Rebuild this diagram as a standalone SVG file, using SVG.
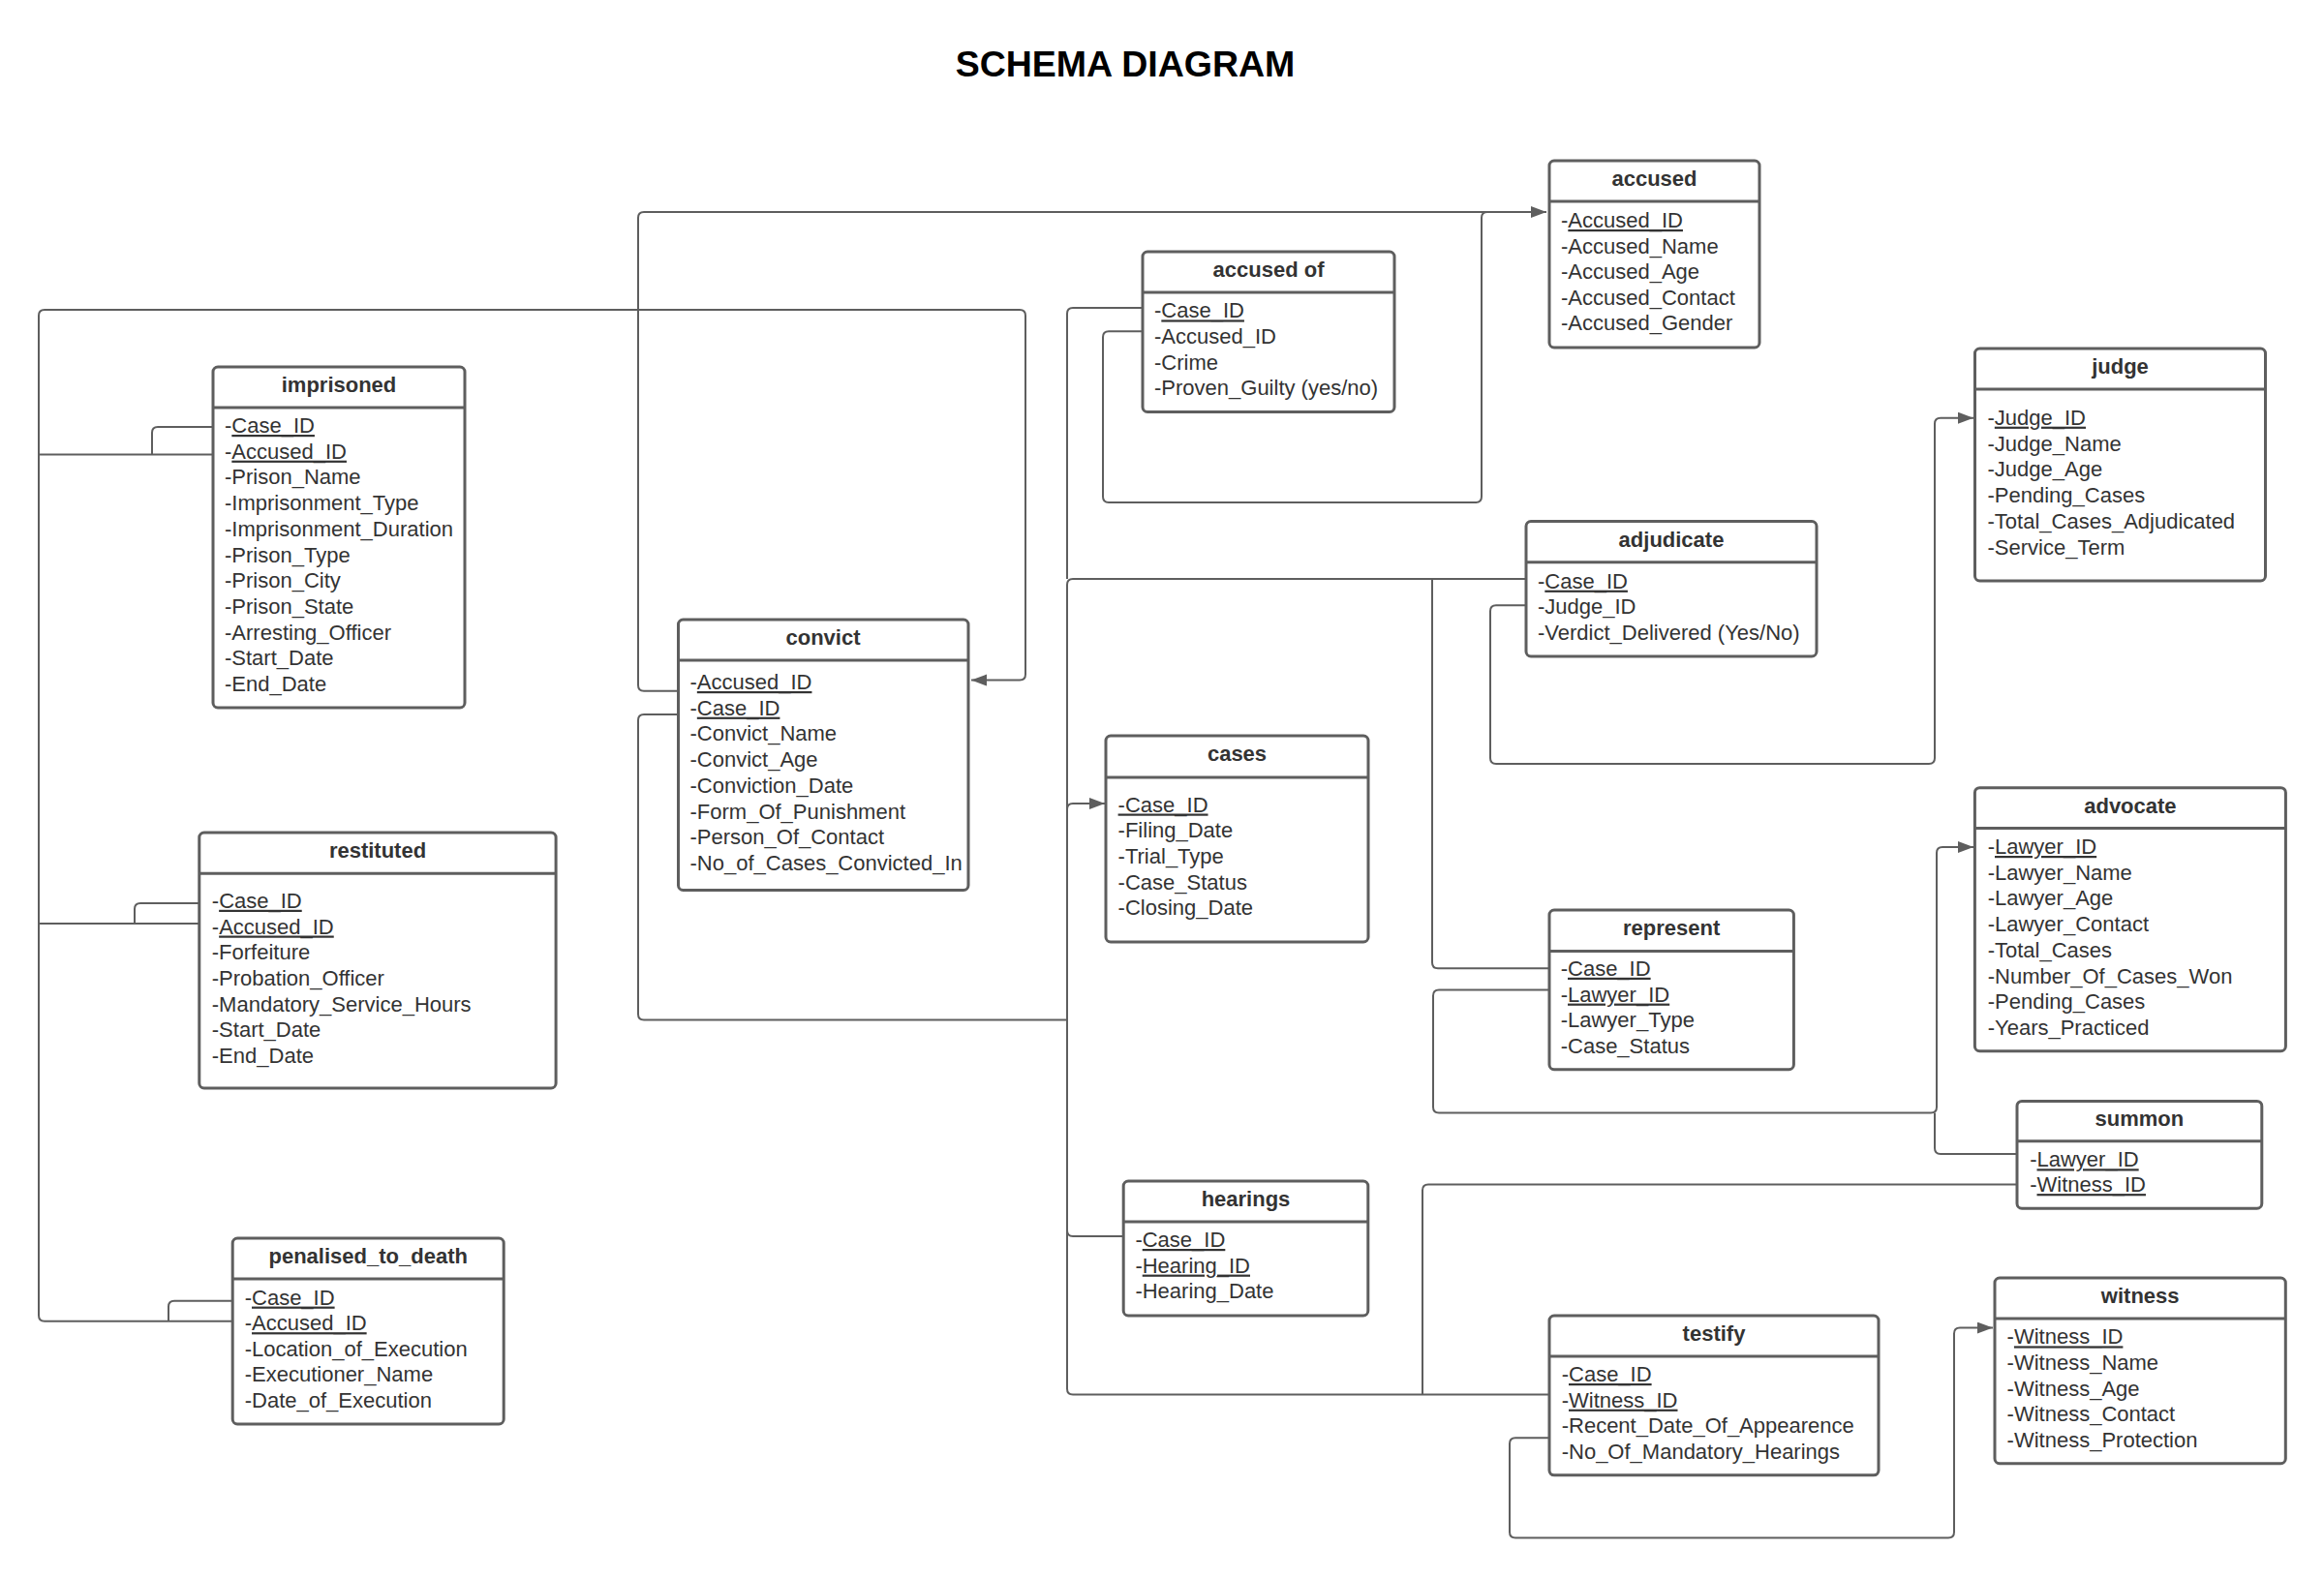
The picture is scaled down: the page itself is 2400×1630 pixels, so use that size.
<svg xmlns="http://www.w3.org/2000/svg" width="2400" height="1630" viewBox="0 0 2400 1630">
<style>
.bg{fill:#ffffff}
.box{fill:#ffffff;stroke:#5e5e5e;stroke-width:3}
.hl{stroke:#5e5e5e;stroke-width:3}
.t{font-family:"Liberation Sans",Arial,sans-serif;font-size:22px;font-weight:bold;fill:#333333;text-anchor:middle}
.a{font-family:"Liberation Sans",Arial,sans-serif;font-size:22px;fill:#333333}
.u{text-decoration:underline}
.c{fill:none;stroke:#5e5e5e;stroke-width:2}
.title{font-family:"Liberation Sans",Arial,sans-serif;font-size:37.5px;font-weight:bold;fill:#000000;text-anchor:middle}
</style>
<defs>
<marker id="arr" markerUnits="userSpaceOnUse" markerWidth="18" markerHeight="14" refX="16" refY="6" orient="auto">
<path d="M0,0 L16,6 L0,12 z" fill="#5e5e5e"/>
</marker>
</defs>
<rect class="bg" x="0" y="0" width="2400" height="1630"/>
<text class="title" x="1162" y="79">SCHEMA DIAGRAM</text>

<g id="connectors">
<path class="c" d="M240.2 1364.7 H46 Q40 1364.7 40 1358.7 V326 Q40 320 46 320 H1053 Q1059 320 1059 326 V696.6 Q1059 702.6 1053 702.6 H1003" marker-end="url(#arr)"/>
<path class="c" d="M219.6 469.6 H40"/>
<path class="c" d="M219.6 441 H163 Q157 441 157 447 V469.6"/>
<path class="c" d="M205.8 954 H40"/>
<path class="c" d="M205.8 933 H145 Q139 933 139 939 V954"/>
<path class="c" d="M240.2 1343.8 H180 Q174 1343.8 174 1349.8 V1364.7"/>
<path class="c" d="M700.5 713.8 H665 Q659 713.8 659 707.8 V225 Q659 219 665 219 H1597" marker-end="url(#arr)"/>
<path class="c" d="M1180 342.3 H1145 Q1139 342.3 1139 348.3 V513 Q1139 519 1145 519 H1524 Q1530 519 1530 513 V225 Q1530 219 1536 219"/>
<path class="c" d="M700.5 738 H665 Q659 738 659 744 V1047.6 Q659 1053.6 665 1053.6 H1102"/>
<path class="c" d="M1180 318 H1108 Q1102 318 1102 324 V598"/>
<path class="c" d="M1600 1440.5 H1108 Q1102 1440.5 1102 1434.5 V604 Q1102 598 1108 598 H1576"/>
<path class="c" d="M1102 845 V836 Q1102 830 1108 830 H1141" marker-end="url(#arr)"/>
<path class="c" d="M1160.2 1277 H1108 Q1102 1277 1102 1271"/>
<path class="c" d="M1479 598 V994.2 Q1479 1000.2 1485 1000.2 H1600"/>
<path class="c" d="M2083 1223.5 H1475 Q1469 1223.5 1469 1229.5 V1440.5"/>
<path class="c" d="M1576 625.3 H1545 Q1539 625.3 1539 631.3 V783 Q1539 789 1545 789 H1992 Q1998 789 1998 783 V437.7 Q1998 431.7 2004 431.7 H2038" marker-end="url(#arr)"/>
<path class="c" d="M1600 1022.6 H1486 Q1480 1022.6 1480 1028.6 V1143.5 Q1480 1149.5 1486 1149.5 H1994 Q2000 1149.5 2000 1143.5 V881 Q2000 875 2006 875 H2038" marker-end="url(#arr)"/>
<path class="c" d="M2083 1192 H2004 Q1998 1192 1998 1186 V1149.5"/>
<path class="c" d="M1600 1485.3 H1565 Q1559 1485.3 1559 1491.3 V1582.6 Q1559 1588.6 1565 1588.6 H2012 Q2018 1588.6 2018 1582.6 V1377.6 Q2018 1371.6 2024 1371.6 H2058" marker-end="url(#arr)"/>
</g>

<g id="accused">
<rect class="box" x="1600" y="166" width="217" height="193" rx="5"/>
<line class="hl" x1="1600" y1="208" x2="1817" y2="208"/>
<text class="t" x="1708.5" y="192">accused</text>
<text class="a" x="1612" y="235">-<tspan class="u">Accused_ID</tspan></text>
<text class="a" x="1612" y="261.6">-Accused_Name</text>
<text class="a" x="1612" y="288.2">-Accused_Age</text>
<text class="a" x="1612" y="314.8">-Accused_Contact</text>
<text class="a" x="1612" y="341.4">-Accused_Gender</text>
</g>

<g id="accused_of">
<rect class="box" x="1180" y="260" width="260" height="165.5" rx="5"/>
<line class="hl" x1="1180" y1="302" x2="1440" y2="302"/>
<text class="t" x="1310" y="286">accused of</text>
<text class="a" x="1192" y="328.4">-<tspan class="u">Case_ID</tspan></text>
<text class="a" x="1192" y="355">-Accused_ID</text>
<text class="a" x="1192" y="381.6">-Crime</text>
<text class="a" x="1192" y="408.2">-Proven_Guilty (yes/no)</text>
</g>

<g id="imprisoned">
<rect class="box" x="220" y="379" width="260" height="352" rx="5"/>
<line class="hl" x1="220" y1="421" x2="480" y2="421"/>
<text class="t" x="350" y="405">imprisoned</text>
<text class="a" x="232" y="447">-<tspan class="u">Case_ID</tspan></text>
<text class="a" x="232" y="473.7">-<tspan class="u">Accused_ID</tspan></text>
<text class="a" x="232" y="500.4">-Prison_Name</text>
<text class="a" x="232" y="527.1">-Imprisonment_Type</text>
<text class="a" x="232" y="553.8">-Imprisonment_Duration</text>
<text class="a" x="232" y="580.5">-Prison_Type</text>
<text class="a" x="232" y="607.2">-Prison_City</text>
<text class="a" x="232" y="633.9">-Prison_State</text>
<text class="a" x="232" y="660.6">-Arresting_Officer</text>
<text class="a" x="232" y="687.3">-Start_Date</text>
<text class="a" x="232" y="714">-End_Date</text>
</g>

<g id="convict">
<rect class="box" x="700.5" y="640" width="299.5" height="279.4" rx="5"/>
<line class="hl" x1="700.5" y1="682" x2="1000" y2="682"/>
<text class="t" x="850" y="666">convict</text>
<text class="a" x="712.5" y="712">-<tspan class="u">Accused_ID</tspan></text>
<text class="a" x="712.5" y="738.7">-<tspan class="u">Case_ID</tspan></text>
<text class="a" x="712.5" y="765.4">-Convict_Name</text>
<text class="a" x="712.5" y="792.1">-Convict_Age</text>
<text class="a" x="712.5" y="818.8">-Conviction_Date</text>
<text class="a" x="712.5" y="845.5">-Form_Of_Punishment</text>
<text class="a" x="712.5" y="872.2">-Person_Of_Contact</text>
<text class="a" x="712.5" y="898.9">-No_of_Cases_Convicted_In</text>
</g>

<g id="judge">
<rect class="box" x="2039.5" y="360" width="300" height="240" rx="5"/>
<line class="hl" x1="2039.5" y1="402" x2="2339.5" y2="402"/>
<text class="t" x="2189.5" y="386">judge</text>
<text class="a" x="2052.5" y="438.7">-<tspan class="u">Judge_ID</tspan></text>
<text class="a" x="2052.5" y="465.5">-Judge_Name</text>
<text class="a" x="2052.5" y="492.3">-Judge_Age</text>
<text class="a" x="2052.5" y="519.1">-Pending_Cases</text>
<text class="a" x="2052.5" y="545.9">-Total_Cases_Adjudicated</text>
<text class="a" x="2052.5" y="572.7">-Service_Term</text>
</g>

<g id="adjudicate">
<rect class="box" x="1576" y="538.6" width="300" height="139.3" rx="5"/>
<line class="hl" x1="1576" y1="580.7" x2="1876" y2="580.7"/>
<text class="t" x="1726" y="564.6">adjudicate</text>
<text class="a" x="1588" y="607.7">-<tspan class="u">Case_ID</tspan></text>
<text class="a" x="1588" y="634.2">-Judge_ID</text>
<text class="a" x="1588" y="660.7">-Verdict_Delivered (Yes/No)</text>
</g>

<g id="cases">
<rect class="box" x="1142" y="760" width="271" height="213" rx="5"/>
<line class="hl" x1="1142" y1="803" x2="1413" y2="803"/>
<text class="t" x="1277.5" y="786">cases</text>
<text class="a" x="1154.6" y="838.5"><tspan class="u">-Case_ID</tspan></text>
<text class="a" x="1154.6" y="865.2">-Filing_Date</text>
<text class="a" x="1154.6" y="891.9">-Trial_Type</text>
<text class="a" x="1154.6" y="918.6">-Case_Status</text>
<text class="a" x="1154.6" y="945.3">-Closing_Date</text>
</g>

<g id="represent">
<rect class="box" x="1600" y="940" width="252.4" height="164.7" rx="5"/>
<line class="hl" x1="1600" y1="982.4" x2="1852.4" y2="982.4"/>
<text class="t" x="1726.2" y="966">represent</text>
<text class="a" x="1611.7" y="1007.8">-<tspan class="u">Case_ID</tspan></text>
<text class="a" x="1611.7" y="1034.6">-<tspan class="u">Lawyer_ID</tspan></text>
<text class="a" x="1611.7" y="1061.4">-Lawyer_Type</text>
<text class="a" x="1611.7" y="1088.2">-Case_Status</text>
</g>

<g id="advocate">
<rect class="box" x="2039.4" y="813.7" width="321" height="272" rx="5"/>
<line class="hl" x1="2039.4" y1="855.6" x2="2360.4" y2="855.6"/>
<text class="t" x="2199.9" y="839.6">advocate</text>
<text class="a" x="2052.7" y="882">-<tspan class="u">Lawyer_ID</tspan></text>
<text class="a" x="2052.7" y="908.7">-Lawyer_Name</text>
<text class="a" x="2052.7" y="935.4">-Lawyer_Age</text>
<text class="a" x="2052.7" y="962.1">-Lawyer_Contact</text>
<text class="a" x="2052.7" y="988.8">-Total_Cases</text>
<text class="a" x="2052.7" y="1015.5">-Number_Of_Cases_Won</text>
<text class="a" x="2052.7" y="1042.2">-Pending_Cases</text>
<text class="a" x="2052.7" y="1068.9">-Years_Practiced</text>
</g>

<g id="summon">
<rect class="box" x="2083" y="1137.4" width="252.8" height="110.8" rx="5"/>
<line class="hl" x1="2083" y1="1178.8" x2="2335.8" y2="1178.8"/>
<text class="t" x="2209.4" y="1163">summon</text>
<text class="a" x="2096.2" y="1205.3">-<tspan class="u">Lawyer_ID</tspan></text>
<text class="a" x="2096.2" y="1231.1">-<tspan class="u">Witness_ID</tspan></text>
</g>

<g id="restituted">
<rect class="box" x="205.8" y="860" width="368.3" height="264" rx="5"/>
<line class="hl" x1="205.8" y1="902.2" x2="574.1" y2="902.2"/>
<text class="t" x="390" y="886">restituted</text>
<text class="a" x="218.8" y="937.8">-<tspan class="u">Case_ID</tspan></text>
<text class="a" x="218.8" y="964.5">-<tspan class="u">Accused_ID</tspan></text>
<text class="a" x="218.8" y="991.2">-Forfeiture</text>
<text class="a" x="218.8" y="1017.9">-Probation_Officer</text>
<text class="a" x="218.8" y="1044.6">-Mandatory_Service_Hours</text>
<text class="a" x="218.8" y="1071.3">-Start_Date</text>
<text class="a" x="218.8" y="1098">-End_Date</text>
</g>

<g id="penalised_to_death">
<rect class="box" x="240.2" y="1279" width="280" height="192" rx="5"/>
<line class="hl" x1="240.2" y1="1321" x2="520.2" y2="1321"/>
<text class="t" x="380.2" y="1305">penalised_to_death</text>
<text class="a" x="252.7" y="1347.6">-<tspan class="u">Case_ID</tspan></text>
<text class="a" x="252.7" y="1374.2">-<tspan class="u">Accused_ID</tspan></text>
<text class="a" x="252.7" y="1400.8">-Location_of_Execution</text>
<text class="a" x="252.7" y="1427.4">-Executioner_Name</text>
<text class="a" x="252.7" y="1454">-Date_of_Execution</text>
</g>

<g id="hearings">
<rect class="box" x="1160.2" y="1220" width="252.6" height="139" rx="5"/>
<line class="hl" x1="1160.2" y1="1262" x2="1412.8" y2="1262"/>
<text class="t" x="1286.5" y="1246">hearings</text>
<text class="a" x="1172.4" y="1288">-<tspan class="u">Case_ID</tspan></text>
<text class="a" x="1172.4" y="1314.6">-<tspan class="u">Hearing_ID</tspan></text>
<text class="a" x="1172.4" y="1341.2">-Hearing_Date</text>
</g>

<g id="testify">
<rect class="box" x="1600" y="1359" width="340" height="164.8" rx="5"/>
<line class="hl" x1="1600" y1="1401" x2="1940" y2="1401"/>
<text class="t" x="1770" y="1385">testify</text>
<text class="a" x="1612.7" y="1427">-<tspan class="u">Case_ID</tspan></text>
<text class="a" x="1612.7" y="1453.7">-<tspan class="u">Witness_ID</tspan></text>
<text class="a" x="1612.7" y="1480.4">-Recent_Date_Of_Appearence</text>
<text class="a" x="1612.7" y="1507.1">-No_Of_Mandatory_Hearings</text>
</g>

<g id="witness">
<rect class="box" x="2060" y="1320" width="300.3" height="191.7" rx="5"/>
<line class="hl" x1="2060" y1="1362" x2="2360.3" y2="1362"/>
<text class="t" x="2210.2" y="1346">witness</text>
<text class="a" x="2072.6" y="1388.4">-<tspan class="u">Witness_ID</tspan></text>
<text class="a" x="2072.6" y="1415">-Witness_Name</text>
<text class="a" x="2072.6" y="1441.6">-Witness_Age</text>
<text class="a" x="2072.6" y="1468.2">-Witness_Contact</text>
<text class="a" x="2072.6" y="1494.8">-Witness_Protection</text>
</g>
</svg>
